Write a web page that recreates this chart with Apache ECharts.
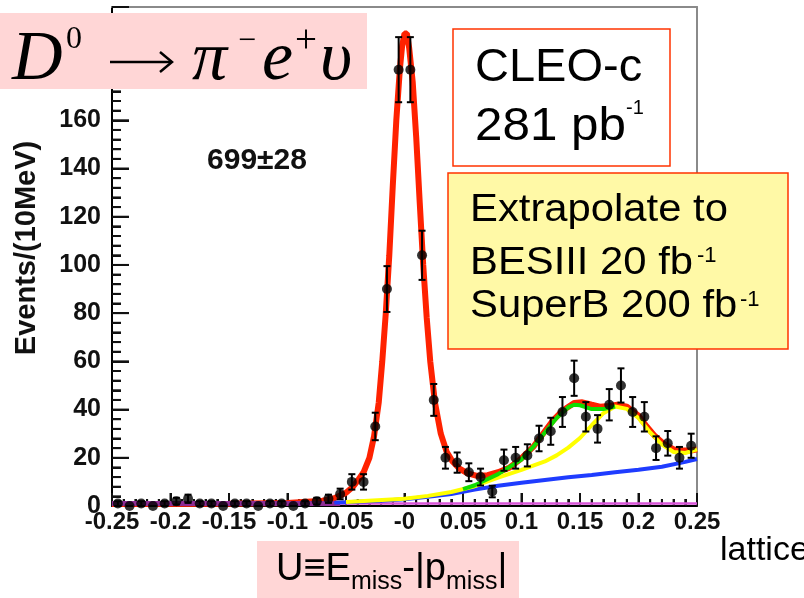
<!DOCTYPE html>
<html><head><meta charset="utf-8">
<script src="https://cdn.jsdelivr.net/npm/echarts/dist/echarts.min.js"></script>
<style>html,body{margin:0;padding:0;background:#fff}#c{width:804px;height:598px;background:#fff}</style>
</head><body><div id="c"></div>
<script>
// ---- data ----
const binCenters = [-0.245,-0.235,-0.225,-0.215,-0.205,-0.195,-0.185,-0.175,-0.165,-0.155,-0.145,-0.135,-0.125,-0.115,-0.105,-0.095,-0.085,-0.075,-0.065,-0.055,-0.045,-0.035,-0.025,-0.015,-0.005,0.005,0.015,0.025,0.035,0.045,0.055,0.065,0.075,0.085,0.095,0.105,0.115,0.125,0.135,0.145,0.155,0.165,0.175,0.185,0.195,0.205,0.215,0.225,0.235,0.245];
const counts = [1,0,1,0,1,2,3,1,1,0,1,1,0,1,1,0,1,2,3,5,10,10,33,90,181,181,104,44,20,18,14,12,6,19,20,21,28,31,39,53,37,32,42,50,39,37,24,26,20,25];
const errors = [1,0,1,0,1,1.4,1.7,1,1,0,1,1,0,1,1,0,1,1.4,1.7,2.2,3.2,3.2,5.7,9.5,13.5,13.5,10.2,6.6,4.5,4.2,3.7,3.5,2.4,4.4,4.5,4.6,5.3,5.6,6.2,7.3,6.1,5.7,6.5,7.1,6.2,6.1,4.9,5.1,4.5,5];

const redX = [-0.25,-0.15,-0.1,-0.07,-0.06,-0.05,-0.044,-0.04,-0.035,-0.03,-0.026,-0.022,-0.019,-0.016,-0.013,-0.01,-0.007,-0.004,-0.002,0.0,0.002,0.004,0.007,0.01,0.013,0.016,0.019,0.022,0.026,0.031,0.036,0.041,0.047,0.054,0.062,0.071,0.08,0.09,0.1,0.11,0.12,0.127,0.135,0.145,0.152,0.16,0.167,0.175,0.182,0.19,0.2,0.207,0.214,0.221,0.23,0.236,0.245,0.25];
const redY = [0.8,0.9,1.2,2.2,3.2,5.5,8,10.5,14,20,29,43,60,80,104,133,160,181,191,196,196,190,176,153,126,100,78,60,43,30,22.5,18.5,15.5,13.5,12.5,12.8,14,16,19.8,24.5,31,35.5,39.5,42.7,43,42,41.2,41.5,42,41.2,37.5,33,29,26,23.5,23,23,23.5];
const blueX = [-0.06,-0.05,-0.02,0,0.02,0.04,0.06,0.08,0.1,0.12,0.14,0.16,0.18,0.2,0.22,0.24,0.25];
const blueY = [1.4,1.6,2.2,2.8,3.8,5.0,6.8,8.4,9.6,10.8,11.9,12.9,14.0,15.0,16.3,18.3,19.5];
const yellowX = [-0.05,0,0.02,0.04,0.06,0.08,0.1,0.12,0.13,0.14,0.15,0.16,0.17,0.18,0.19,0.2,0.21,0.22,0.23,0.24,0.25];
const yellowY = [1.7,3.0,4.2,5.8,8.2,11.8,15,18.5,21,24.2,28.2,33.5,38.5,41.3,40.3,36.5,30.5,25.5,22.4,22,23.5];
const greenX = [0.05,0.06,0.08,0.1,0.11,0.12,0.13,0.14,0.145,0.15,0.16,0.17,0.18];
const greenY = [7,8.6,13.2,19.3,24.5,30.5,36.5,41,42,41.8,40.2,40.2,41.3];
const baseX = [-0.25,0.25];
const baseY = [1,1];
const purpleX = [-0.25,-0.055];
const purpleY = [1,1];

const xTickLabels = ['-0.25','-0.2','-0.15','-0.1','-0.05','-0','0.05','0.1','0.15','0.2','0.25'];
const yTitle = 'Events/(10MeV)';
const yieldText = '699±28';

// ---- axis settings ----
const xMin = -0.25, xMax = 0.25, xMajorStep = 0.05, xMinorStep = 0.01;
const yMin = 0, yMax = 207, yMajorStep = 20, yMinorStep = 4;

// ---- chart ----
const zip = (a,b) => a.map((v,i)=>[v,b[i]]);
const chart = echarts.init(document.getElementById('c'));
const lbl = () => ({fontFamily:'"Liberation Sans", Arial, sans-serif', fontWeight:'bold', color:'#111'});
function lineSeries(x,y,color,w,z){
  return {type:'line', data:zip(x,y), showSymbol:false, symbol:'none', smooth:false,
    lineStyle:{color:color,width:w}, itemStyle:{color:color}, z:z, silent:true};
}
function T(text,x,y,font,extra){
  return Object.assign({type:'text', x:x, y:y, z:100,
    style:{text:text, font:font, fill:'#000', align:'left', verticalAlign:'middle', textAlign:'left', textVerticalAlign:'middle'}}, extra||{});
}
const serifI = 'italic 70px "Liberation Serif", "DejaVu Serif", serif';
const serif = (s)=> s+'px "Liberation Serif", "DejaVu Serif", serif';
const sans = (s)=> s+'px "Liberation Sans", Arial, sans-serif';
const off = () => ({show:false});

const annotations = [
  {type:'text', x:27, y:248, z:100, rotation:Math.PI/2, style:{text:yTitle, font:'bold 29px "Liberation Sans", Arial, sans-serif', fill:'#111', align:'center', verticalAlign:'middle', textAlign:'center', textVerticalAlign:'middle'}},
  {type:'text', x:257, y:161, z:100, style:{text:yieldText, font:'bold 30px "Liberation Sans", Arial, sans-serif', fill:'#111', align:'center', verticalAlign:'middle', textAlign:'center', textVerticalAlign:'middle'}},
  {type:'rect', z:99, shape:{x:0,y:13,width:367,height:76}, style:{fill:'#ffd6d6'}},
  T('D',12,61,serifI),
  T('0',66,40,serif(32)),
  {type:'line', z:100, shape:{x1:110,y1:62,x2:171,y2:62}, style:{stroke:'#000',lineWidth:2.5}},
  {type:'polyline', z:100, shape:{points:[[160,52],[172,62],[160,72]]}, style:{stroke:'#000',lineWidth:2.5,fill:null}},
  T('π',192,61,serifI),
  T('−',238,42,serif(32)),
  T('e',262,61,serifI),
  T('+',295,41.5,serif(39)),
  T('υ',320,61,serifI),
  {type:'rect', z:99, shape:{x:453,y:29,width:217,height:137}, style:{fill:'#fff', stroke:'#ff3300', lineWidth:1.5}},
  T('CLEO-c',475,68.5,sans(47)),
  T('281 pb',475,127.5,sans(47),{scaleX:1.05}),
  T('-1',626,108.5,sans(20)),
  {type:'rect', z:99, shape:{x:448,y:173,width:340,height:176}, style:{fill:'#fff9a6', stroke:'#ff3300', lineWidth:1.5}},
  T('Extrapolate to',470,211,sans(38),{scaleX:1.1}),
  T('BESIII 20 fb',470,264,sans(38),{scaleX:1.1}),
  T('-1',697,256,sans(22)),
  T('SuperB 200 fb',470,307,sans(38),{scaleX:1.1}),
  T('-1',740,300,sans(22)),
  {type:'rect', z:99, shape:{x:257,y:541,width:262,height:57}, style:{fill:'#ffd6d6'}},
  {type:'text', x:276, y:570, z:100, style:{text:'U≡E{s|miss}-|p{s|miss}|', font:sans(38), fill:'#000', lineHeight:50, align:'left', verticalAlign:'middle', textAlign:'left', textVerticalAlign:'middle',
    rich:{s:{fontSize:25, fontFamily:'"Liberation Sans", Arial, sans-serif', verticalAlign:'bottom', lineHeight:25, fill:'#000'}}}},
  T('lattice',720,551,sans(34))
];

const option = {
  animation:false,
  grid:{left:112, right:107, top:7, bottom:92},
  xAxis:[
    {type:'value', min:xMin, max:xMax, interval:xMajorStep,
      axisLine:{show:true, onZero:false, lineStyle:{color:'#000',width:2}},
      axisTick:{show:true, inside:true, length:13, lineStyle:{color:'#111',width:2}},
      minorTick:{show:true, splitNumber:5, length:7, lineStyle:{color:'#111',width:2}},
      splitLine:off(), minorSplitLine:off(),
      axisLabel:Object.assign({fontSize:24, margin:4, formatter:(v)=>xTickLabels[Math.round((v-xMin)/xMajorStep)]}, lbl())},
    {type:'value', position:'top', min:xMin, max:xMax, interval:xMajorStep,
      axisLine:{show:true, onZero:false, lineStyle:{color:'#8a8a8a', width:2}}, axisTick:off(), minorTick:off(), axisLabel:off(), splitLine:off()}
  ],
  yAxis:[
    {type:'value', min:yMin, max:yMax, interval:yMajorStep,
      axisLine:{show:true, onZero:false, lineStyle:{color:'#000',width:2}},
      axisTick:{show:true, inside:true, length:17, lineStyle:{color:'#111',width:2}},
      minorTick:{show:true, splitNumber:5, length:9, lineStyle:{color:'#111',width:2}},
      splitLine:off(), minorSplitLine:off(),
      axisLabel:Object.assign({fontSize:25, margin:11, showMaxLabel:false}, lbl())},
    {type:'value', position:'right', min:yMin, max:yMax, interval:yMajorStep,
      axisLine:{show:true, onZero:false, lineStyle:{color:'#8a8a8a', width:2}}, axisTick:off(), minorTick:off(), axisLabel:off(), splitLine:off()}
  ],
  series:[
    lineSeries(redX,redY,'#ff2200',6,1),
    lineSeries(baseX,baseY,'#d855d8',2.5,2),
    lineSeries(purpleX,purpleY,'#8e2c94',5,2),
    lineSeries(blueX,blueY,'#1f3cff',4,4),
    lineSeries(yellowX,yellowY,'#ffff00',4,5),
    lineSeries(greenX,greenY,'#11dd00',4,6),
    {type:'custom', z:7, silent:true,
      data: binCenters.map((x,i)=>[x,counts[i],errors[i]]),
      encode:{x:0,y:1},
      renderItem:(params,api)=>{
        const x=api.value(0), y=api.value(1), e=api.value(2);
        const t=api.coord([x,y+e]), b=api.coord([x,Math.max(0,y-e)]);
        const cw=3.5, st={stroke:'#000',lineWidth:2};
        return {type:'group', children:[
          {type:'line', shape:{x1:t[0],y1:t[1],x2:b[0],y2:b[1]}, style:st},
          {type:'line', shape:{x1:t[0]-cw,y1:t[1],x2:t[0]+cw,y2:t[1]}, style:st},
          {type:'line', shape:{x1:b[0]-cw,y1:b[1],x2:b[0]+cw,y2:b[1]}, style:st}
        ]};
      }},
    {type:'scatter', z:8, silent:true, data:zip(binCenters,counts), symbol:'circle', symbolSize:10, itemStyle:{color:'#000'}}
  ]
};
chart.setOption(option);

// extra inside ticks placed through the chart's own scales (coincide with axis ticks)
const tickEls = [];
const nx = Math.round((xMax - xMin) / xMinorStep);
for (let i = 0; i <= nx; i++) {
  const p = chart.convertToPixel({gridIndex:0}, [xMin + i * xMinorStep, yMin]);
  const len = i % 5 === 0 ? 13 : 7;
  tickEls.push({type:'line', shape:{x1:p[0], y1:p[1], x2:p[0], y2:p[1]-len}, style:{stroke:'#111', lineWidth:2}});
}
for (let i = 0; i * yMinorStep <= yMax; i++) {
  const p = chart.convertToPixel({gridIndex:0}, [xMin, yMin + i * yMinorStep]);
  const len = i % 5 === 0 ? 17 : 9;
  tickEls.push({type:'line', shape:{x1:p[0], y1:p[1], x2:p[0]+len, y2:p[1]}, style:{stroke:'#111', lineWidth:2}});
}
chart.setOption({graphic:{elements: tickEls.concat(annotations)}});
</script></body></html>
